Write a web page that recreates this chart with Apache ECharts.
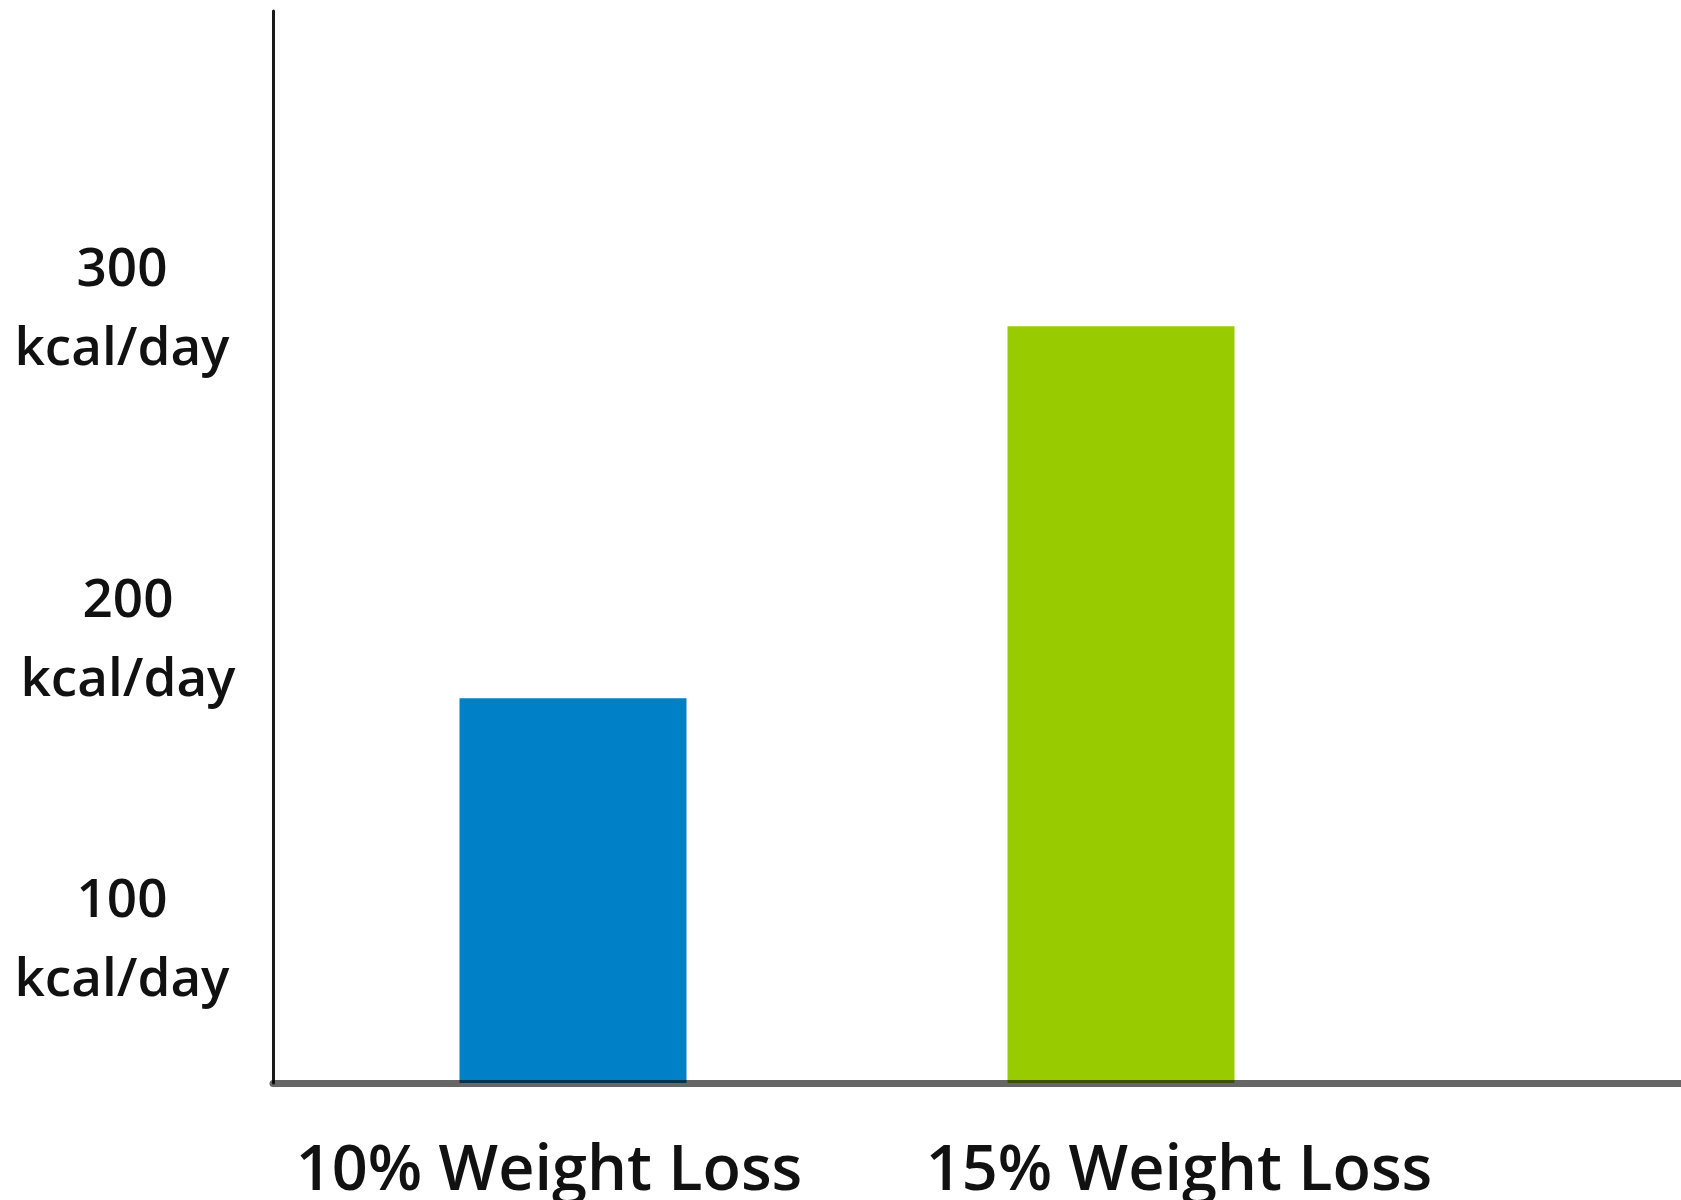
<!DOCTYPE html>
<html>
<head>
<meta charset="utf-8">
<title>kcal/day</title>
<script src="https://cdn.jsdelivr.net/npm/echarts@6/dist/echarts.min.js"></script>
<style>
  html, body{
    margin: 0;
    padding: 0;
    background: #ffffff;
  }
  #myChart{
    width: 1681px;
    height: 1200px;
  }
</style>
</head>
<body>
<div id="myChart"></div>
<script>
  // 类目
  var categories = ['10% Weight Loss', '15% Weight Loss'];
  // 数值 (kcal/day)
  var values = [177, 295];
  var barColors = ['#0080c6', '#99cc00'];
  // 刻度
  var tickLabels = [100, 200, 300];
  var yMin = 55;
  var yMax = 395;

  var myChart = echarts.init(document.getElementById('myChart'));

  var barData = values.map(function (v, i) {
    return { value: v, itemStyle: { color: barColors[i] } };
  });

  var yFont = { fontFamily: 'Open Sans', fontSize: 53, fontWeight: 600, lineHeight: 79, color: '#111', align: 'center' };
  var xFont = { fontFamily: 'Open Sans', fontSize: 63, fontWeight: 600, color: '#111' };

  myChart.setOption({
    animation: false,
    grid: [
      // 坐标轴
      { left: 273, right: 0, top: 11, bottom: 117, outerBoundsMode: 'none' },
      // 柱子
      { left: 299, right: 286, top: 11, bottom: 117, outerBoundsMode: 'none' }
    ],
    xAxis: [
      {
        gridIndex: 0,
        type: 'category',
        data: categories,
        z: 5,
        axisLine: { lineStyle: { color: 'rgba(0,0,0,0.6)', width: 7 } },
        axisTick: { show: false },
        axisLabel: { show: false }
      },
      {
        gridIndex: 1,
        type: 'category',
        data: categories,
        axisLine: { show: false },
        axisTick: { show: false },
        axisLabel: {
          interval: 0,
          margin: 58,
          fontFamily: 'Open Sans',
          fontSize: 63,
          color: '#111',
          formatter: function (v, i) {
            return (i === 0 ? '{a|' : '{b|') + v + '}';
          },
          rich: {
            a: Object.assign({ padding: [0, 48, 0, 0] }, xFont),
            b: Object.assign({ padding: [0, 0, 0, 116] }, xFont)
          }
        }
      }
    ],
    yAxis: [
      {
        gridIndex: 0,
        type: 'value',
        min: yMin,
        max: yMax,
        interval: 5,
        axisLine: { show: true, lineStyle: { color: '#1a1a1a', width: 3 } },
        axisTick: { show: false },
        splitLine: { show: false },
        axisLabel: {
          margin: 151,
          align: 'center',
          fontFamily: 'Open Sans',
          fontSize: 53,
          lineHeight: 79,
          color: '#111',
          showMinLabel: false,
          showMaxLabel: false,
          formatter: function (v) {
            if (tickLabels.indexOf(v) < 0) return '';
            var key = v === 200 ? 'm' : 't';
            return '{' + key + '|' + v + '}\n{' + key + '|kcal/day}';
          },
          rich: {
            t: Object.assign({}, yFont),
            m: Object.assign({ padding: [32, 0, 0, 12] }, yFont)
          }
        }
      },
      {
        gridIndex: 1,
        type: 'value',
        min: yMin,
        max: yMax,
        interval: 5,
        show: false
      }
    ],
    series: [
      {
        type: 'bar',
        xAxisIndex: 1,
        yAxisIndex: 1,
        barWidth: 227,
        data: barData
      }
    ]
  });
</script>
</body>
</html>
